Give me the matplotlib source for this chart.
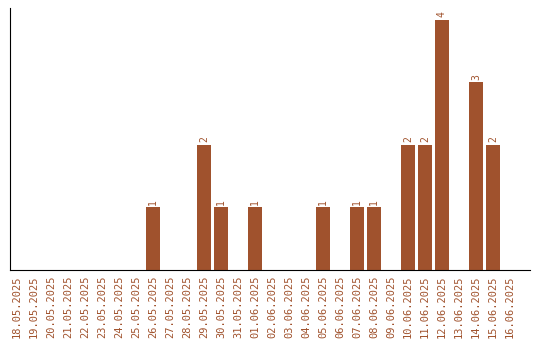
import matplotlib
matplotlib.use("Agg")
import matplotlib.pyplot as plt

dates = ["18.05.2025", "19.05.2025", "20.05.2025", "21.05.2025", "22.05.2025",
         "23.05.2025", "24.05.2025", "25.05.2025", "26.05.2025", "27.05.2025",
         "28.05.2025", "29.05.2025", "30.05.2025", "31.05.2025", "01.06.2025",
         "02.06.2025", "03.06.2025", "04.06.2025", "05.06.2025", "06.06.2025",
         "07.06.2025", "08.06.2025", "09.06.2025", "10.06.2025", "11.06.2025",
         "12.06.2025", "13.06.2025", "14.06.2025", "15.06.2025", "16.06.2025"]
counts = [0, 0, 0, 0, 0, 0, 0, 0, 1, 0,
          0, 2, 1, 0, 1, 0, 0, 0, 1, 0,
          1, 1, 0, 2, 2, 4, 0, 3, 2, 0]

color = "#A0522D"

fig = plt.figure(figsize=(5.4, 3.4), dpi=100)
ax = fig.add_axes([10 / 540, 70 / 340, 520 / 540, 262 / 340])

x = list(range(len(dates)))
ax.bar(x, counts, width=0.82, color=color)
for xi, c in zip(x, counts):
    if c > 0:
        ax.text(xi, c + 0.04, str(c), rotation=90, ha="center", va="bottom",
                color=color, fontsize=7, family="DejaVu Sans Mono")

ax.set_xlim(-0.41, 30.18)
ax.set_ylim(0, 4.19)
ax.set_xticks(x)
ax.set_xticklabels(dates, rotation=90, fontsize=7.5, color=color,
                   family="DejaVu Sans Mono")
ax.tick_params(axis="x", length=0, pad=4)
ax.set_yticks([])
ax.spines["top"].set_visible(False)
ax.spines["right"].set_visible(False)

fig.savefig("out.png", dpi=100)
